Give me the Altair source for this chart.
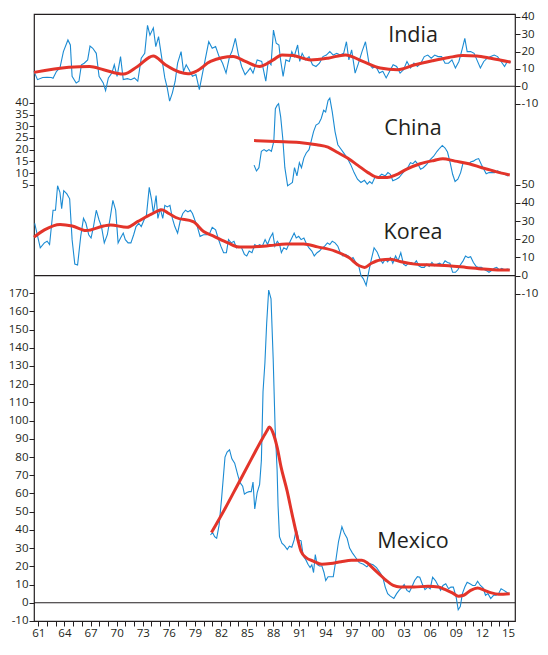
import altair as alt
import pandas as pd

# ---------------- data ----------------
india_year = [1960.50, 1960.90, 1961.5, 1962.0, 1962.49, 1962.69, 1963.09, 1963.48, 1963.88, 1964.40, 1964.68, 1964.88,
              1965.35, 1965.67, 1965.95, 1966.27, 1966.67, 1966.94, 1967.26, 1967.66, 1967.98, 1968.46, 1968.73, 1969.05,
              1969.45, 1969.73, 1970.05, 1970.45, 1970.76, 1971.24, 1971.64, 1972.04, 1972.43, 1972.83, 1973.23, 1973.55,
              1973.83, 1974.22, 1974.50, 1974.82, 1975.14, 1975.54, 1975.82, 1976.09, 1976.41, 1976.73, 1977.01, 1977.41,
              1977.69, 1978.00, 1978.32, 1978.72, 1979.12, 1979.51, 1979.99, 1980.59, 1980.99, 1981.38, 1981.78, 1982.18,
              1982.58, 1982.98, 1983.25, 1983.65, 1983.97, 1984.37, 1984.77, 1985.08, 1985.36, 1985.68, 1986.16, 1986.68,
              1987.15, 1987.43, 1987.75, 1988.03, 1988.35, 1988.66, 1988.82, 1989.14, 1989.46, 1989.86, 1990.14, 1990.41,
              1990.81, 1991.05, 1991.33, 1991.73, 1992.12, 1992.52, 1992.92, 1993.32, 1993.72, 1994.11, 1994.51, 1994.91,
              1995.31, 1995.71, 1996.10, 1996.42, 1996.70, 1997.02, 1997.42, 1997.81, 1998.21, 1998.61, 1999.01, 1999.41,
              1999.80, 2000.20, 2000.60, 2000.99, 2001.39, 2001.79, 2002.19, 2002.59, 2002.98, 2003.38, 2003.78, 2004.18,
              2004.58, 2004.97, 2005.37, 2005.77, 2006.17, 2006.57, 2006.96, 2007.36, 2007.76, 2008.16, 2008.55, 2008.95,
              2009.35, 2009.75, 2010.03, 2010.30, 2010.70, 2011.10, 2011.42, 2011.82, 2012.21, 2012.61, 2013.01, 2013.41,
              2013.80, 2014.20, 2014.60, 2014.92, 2015.32]
india_val = [8.6, 3.8, 5.0, 5.2, 5.0, 4.6, 8.6, 10.5, 20.0, 26.7, 23.8, 5.7,
             1.9, 2.9, 12.4, 13.3, 15.2, 23.2, 21.9, 19.0, 5.7, 1.9, -2.5, 4.8,
             7.6, 12.4, 5.7, 17.1, 3.8, 4.4, 3.8, 4.8, 2.9, 16.2, 19.0, 35.2,
             29.5, 33.7, 22.9, 28.6, 18.0, 4.8, -1.0, -8.6, -3.8, 2.9, 13.3, 20.0,
             8.6, 12.4, 9.5, 5.7, 6.7, -1.9, 10.5, 25.7, 21.9, 22.9, 17.1, 13.3,
             7.6, 17.1, 20.0, 27.6, 19.0, 11.4, 6.7, 8.6, 10.5, 7.6, 15.2, 14.3,
             2.9, 14.3, 12.4, 32.4, 24.8, 23.8, 16.2, 5.7, 15.2, 14.3, 20.0, 17.1,
             23.8, 14.3, 19.0, 15.2, 17.1, 12.4, 11.4, 13.3, 17.1, 18.0, 20.0, 18.0,
             19.0, 18.0, 19.0, 25.7, 15.2, 21.0, 7.6, 13.3, 20.0, 25.7, 13.3, 10.5,
             11.4, 7.6, 8.6, 4.8, 8.6, 12.4, 11.4, 7.6, 9.5, 14.3, 10.5, 13.3,
             11.4, 13.3, 17.1, 18.0, 16.2, 18.0, 17.1, 17.1, 13.3, 13.3, 15.2, 10.5,
             14.3, 21.9, 27.6, 20.0, 20.0, 19.0, 15.2, 10.5, 14.3, 16.2, 17.1, 18.0,
             17.1, 14.3, 11.4, 14.3, 13.9]
india_trend_year = [1960.5, 1964.5, 1966.9, 1968.5, 1970.8, 1972.4, 1974.2, 1975.6, 1977.2, 1978.2, 1979.2, 1980.8,
                    1983.4, 1984.8, 1986.4, 1988.0, 1989.0, 1990.3, 1992.3, 1994.3, 1996.3, 1998.3, 2000.3, 2002.3,
                    2004.3, 2006.3, 2008.2, 2009.8, 2011.4, 2013.0, 2015.3]
india_trend_val = [8.0, 10.9, 11.4, 9.5, 7.0, 11.4, 17.5, 12.4, 8.2, 7.2, 8.8, 14.3,
                   17.1, 14.3, 11.4, 15.2, 18.1, 17.7, 15.2, 16.2, 18.1, 14.3, 10.5, 9.5,
                   12.4, 14.7, 16.6, 17.7, 17.5, 16.2, 13.9]

china_year = [1985.80, 1986.08, 1986.36, 1986.64, 1986.95, 1987.23, 1987.51, 1987.79, 1988.07, 1988.25, 1988.45, 1988.62,
              1988.86, 1989.10, 1989.34, 1989.66, 1989.94, 1990.21, 1990.45, 1990.73, 1991.01, 1991.25, 1991.53, 1991.80,
              1992.12, 1992.36, 1992.64, 1992.92, 1993.24, 1993.52, 1993.80, 1994.03, 1994.31, 1994.51, 1994.79, 1995.11,
              1995.43, 1995.70, 1996.10, 1996.50, 1996.90, 1997.30, 1997.69, 1998.09, 1998.49, 1998.81, 1999.09, 1999.36,
              1999.68, 2000.08, 2000.48, 2000.88, 2001.19, 2001.47, 2001.75, 2002.15, 2002.47, 2002.78, 2003.10, 2003.46,
              2003.78, 2004.06, 2004.34, 2004.66, 2004.94, 2005.25, 2005.65, 2006.05, 2006.45, 2006.84, 2007.16, 2007.44,
              2007.76, 2008.04, 2008.35, 2008.63, 2008.91, 2009.23, 2009.55, 2009.83, 2010.10, 2010.42, 2010.74, 2011.02,
              2011.30, 2011.62, 2011.93, 2012.21, 2012.49, 2012.81, 2013.13, 2013.45, 2013.80, 2014.20, 2014.60, 2015.00]
china_val = [13.4, 10.9, 12.3, 19.3, 20.0, 19.3, 20.0, 19.3, 23.5, 37.5, 38.9, 39.6,
             34.0, 24.9, 12.3, 4.6, 5.3, 6.0, 12.3, 8.8, 14.4, 12.3, 16.5, 18.6,
             20.0, 23.5, 27.7, 30.5, 31.2, 33.3, 36.8, 36.1, 41.0, 42.0, 36.1, 27.7,
             22.1, 20.7, 18.6, 16.5, 13.7, 10.2, 7.4, 6.0, 6.9, 5.3, 6.4, 5.5,
             8.1, 8.3, 9.5, 8.8, 10.2, 9.5, 6.7, 7.4, 8.1, 9.5, 10.9, 12.3,
             14.4, 14.0, 15.1, 13.7, 11.6, 12.3, 13.7, 15.8, 17.2, 19.3, 20.7, 21.8,
             20.7, 19.0, 14.4, 9.5, 6.4, 7.4, 10.2, 14.4, 14.4, 13.7, 14.8, 15.1,
             15.8, 16.2, 13.7, 11.6, 9.7, 10.2, 10.2, 10.2, 10.9, 10.2, 9.5, 8.8]
china_trend_year = [1985.8, 1988.3, 1991.0, 1993.0, 1994.3, 1995.3, 1996.5, 1997.7, 1998.9, 2000.1, 2001.1, 2002.1,
                    2003.3, 2004.9, 2006.5, 2007.5, 2008.9, 2010.5, 2012.0, 2013.6, 2015.2]
china_trend_val = [23.9, 23.5, 23.1, 22.1, 21.1, 19.0, 16.5, 13.4, 10.2, 8.1, 8.1, 9.2,
                   11.6, 14.0, 15.4, 16.1, 15.1, 14.0, 12.3, 10.6, 9.2]

korea_year = [1960.58, 1961.22, 1961.69, 1962.01, 1962.29, 1962.69, 1962.97, 1963.21, 1963.48, 1963.68, 1963.92, 1964.28,
              1964.60, 1964.88, 1965.19, 1965.51, 1965.87, 1966.19, 1966.47, 1966.79, 1967.06, 1967.34, 1967.66, 1967.98,
              1968.26, 1968.58, 1968.93, 1969.25, 1969.57, 1969.89, 1970.17, 1970.45, 1970.76, 1971.00, 1971.32, 1971.64,
              1971.96, 1972.23, 1972.55, 1972.83, 1973.15, 1973.43, 1973.75, 1974.03, 1974.22, 1974.54, 1974.74, 1975.02,
              1975.30, 1975.54, 1975.82, 1976.13, 1976.41, 1976.69, 1977.01, 1977.33, 1977.61, 1977.92, 1978.20, 1978.48,
              1978.72, 1978.99, 1979.28, 1979.59, 1979.99, 1980.39, 1980.71, 1980.99, 1981.38, 1981.66, 1981.98, 1982.30,
              1982.62, 1982.86, 1983.17, 1983.49, 1983.77, 1984.05, 1984.37, 1984.69, 1984.96, 1985.24, 1985.56, 1985.88,
              1986.16, 1986.44, 1986.75, 1987.07, 1987.35, 1987.63, 1987.95, 1988.19, 1988.47, 1988.74, 1988.94, 1989.22,
              1989.54, 1989.86, 1990.14, 1990.41, 1990.65, 1990.93, 1991.21, 1991.53, 1991.85, 1992.12, 1992.44, 1992.72,
              1993.04, 1993.32, 1993.64, 1993.92, 1994.23, 1994.51, 1994.79, 1995.11, 1995.43, 1995.71, 1996.02, 1996.30,
              1996.62, 1996.90, 1997.18, 1997.50, 1997.81, 1998.09, 1998.37, 1998.69, 1999.01, 1999.29, 1999.60, 1999.96,
              2000.28, 2000.60, 2000.88, 2001.16, 2001.47, 2001.75, 2002.07, 2002.35, 2002.67, 2002.98, 2003.26, 2003.54,
              2003.86, 2004.18, 2004.46, 2004.74, 2005.05, 2005.37, 2005.65, 2005.93, 2006.25, 2006.57, 2006.84, 2007.12,
              2007.44, 2007.76, 2008.04, 2008.32, 2008.63, 2008.95, 2009.23, 2009.51, 2009.83, 2010.11, 2010.42, 2010.70,
              2011.02, 2011.34, 2011.62, 2011.94, 2012.21, 2012.53, 2012.81, 2013.09, 2013.41, 2013.69, 2014.00, 2014.28,
              2014.60, 2014.92, 2015.20]
korea_val = [28.8, 15.3, 18.0, 18.9, 17.1, 36.0, 36.0, 49.5, 45.9, 36.9, 46.8, 45.0,
             42.3, 19.8, 6.3, 5.8, 21.6, 31.5, 28.8, 22.5, 20.7, 27.0, 36.0, 30.6,
             27.0, 18.0, 22.5, 31.5, 41.4, 36.0, 18.0, 20.7, 23.4, 19.8, 18.0, 18.0,
             22.5, 27.0, 28.8, 27.0, 30.6, 33.3, 48.6, 41.4, 34.2, 44.1, 31.5, 36.9,
             31.5, 38.7, 37.8, 38.7, 31.5, 27.0, 23.4, 30.6, 34.2, 36.0, 35.1, 36.0,
             34.2, 30.6, 27.0, 21.6, 22.5, 22.5, 23.4, 26.6, 25.2, 20.7, 16.2, 12.6,
             12.6, 19.8, 18.0, 18.9, 15.3, 16.2, 15.3, 11.7, 10.8, 13.5, 12.6, 17.1,
             16.2, 17.1, 16.2, 19.8, 17.1, 20.7, 23.4, 16.2, 18.9, 17.1, 12.6, 15.3,
             14.4, 18.0, 20.7, 23.4, 20.7, 21.6, 19.8, 20.7, 17.1, 15.3, 13.5, 10.8,
             12.6, 13.5, 15.3, 16.2, 18.0, 17.1, 18.9, 18.0, 16.2, 12.6, 10.8, 11.7,
             10.8, 9.0, 9.9, 7.2, 5.8, 0.0, -1.8, -5.4, 2.7, 9.0, 15.3, 12.9,
             9.0, 6.8, 9.0, 7.6, 9.9, 6.8, 10.8, 8.1, 12.6, 6.3, 5.4, 6.8,
             7.2, 6.3, 8.1, 5.4, 4.5, 4.5, 6.3, 5.0, 7.2, 5.4, 6.3, 6.8,
             5.8, 8.1, 7.2, 6.8, 1.8, 1.8, 3.2, 5.8, 8.1, 10.8, 9.9, 10.4,
             7.2, 5.0, 4.5, 4.5, 3.6, 2.7, 1.8, 2.7, 4.0, 4.5, 3.1, 4.0,
             3.1, 3.6, 3.2]
korea_trend_year = [1960.5, 1961.7, 1963.5, 1964.9, 1966.5, 1968.5, 1969.3, 1971.2, 1972.4, 1974.0, 1975.2, 1976.0,
                    1976.8, 1978.8, 1980.0, 1981.2, 1982.8, 1984.0, 1985.2, 1987.6, 1989.5, 1991.5, 1993.1, 1995.1,
                    1996.7, 1997.9, 1998.5, 1999.3, 2000.3, 2001.5, 2002.7, 2004.3, 2006.3, 2008.2, 2010.2, 2012.2,
                    2013.8, 2015.2]
korea_trend_val = [21.2, 25.2, 28.2, 27.3, 24.8, 27.3, 27.9, 26.6, 29.7, 33.8, 36.3, 34.2,
                   32.0, 29.7, 24.3, 21.6, 18.0, 15.8, 15.8, 16.5, 17.4, 17.4, 15.8, 13.5,
                   9.9, 5.4, 4.5, 6.8, 8.6, 9.0, 7.6, 6.3, 5.8, 5.4, 4.5, 3.6,
                   3.1, 3.1]

mexico_year = [1980.79, 1981.03, 1981.27, 1981.50, 1981.78, 1982.06, 1982.46, 1982.70, 1982.98, 1983.25, 1983.57, 1983.97,
               1984.21, 1984.49, 1984.69, 1984.96, 1985.24, 1985.48, 1985.68, 1985.88, 1986.16, 1986.44, 1986.64, 1986.83,
               1987.05, 1987.25, 1987.48, 1987.75, 1988.00, 1988.22, 1988.45, 1988.56, 1988.72, 1989.00, 1989.30, 1989.62,
               1989.86, 1990.14, 1990.41, 1990.65, 1990.93, 1991.21, 1991.45, 1991.73, 1992.00, 1992.24, 1992.44, 1992.64,
               1992.84, 1993.04, 1993.32, 1993.60, 1993.84, 1994.04, 1994.31, 1994.63, 1994.91, 1995.19, 1995.51, 1995.90,
               1996.18, 1996.50, 1996.78, 1997.10, 1997.50, 1997.89, 1998.37, 1998.77, 1999.09, 1999.48, 1999.88, 2000.28,
               2000.60, 2000.88, 2001.16, 2001.47, 2001.87, 2002.19, 2002.47, 2002.75, 2003.06, 2003.38, 2003.66, 2003.94,
               2004.26, 2004.58, 2004.85, 2005.13, 2005.45, 2005.77, 2006.05, 2006.33, 2006.65, 2006.96, 2007.24, 2007.52,
               2007.84, 2008.16, 2008.43, 2008.71, 2009.03, 2009.27, 2009.51, 2009.75, 2010.03, 2010.30, 2010.62, 2010.94,
               2011.22, 2011.50, 2011.82, 2012.13, 2012.41, 2012.69, 2013.01, 2013.33, 2013.61, 2013.88, 2014.20, 2014.52,
               2014.80, 2015.08]
mexico_val = [37.2, 38.6, 36.3, 35.4, 42.6, 56.9, 80.0, 82.7, 84.0, 79.0, 76.6, 69.4,
              65.8, 64.0, 59.6, 60.5, 61.0, 61.0, 66.2, 51.5, 60.5, 65.0, 78.0, 115.8,
              131.9, 153.4, 171.6, 166.8, 133.7, 96.1, 72.9, 53.3, 36.3, 32.7, 31.3, 29.2,
              31.0, 30.5, 34.5, 40.4, 34.5, 34.0, 25.6, 23.8, 21.1, 19.3, 20.8, 16.6,
              26.5, 21.1, 20.2, 20.2, 16.6, 12.2, 14.3, 14.3, 14.3, 22.9, 33.6, 41.7,
              38.1, 35.4, 30.0, 27.4, 24.7, 22.0, 21.1, 19.7, 21.5, 20.8, 19.3, 16.6,
              14.0, 8.6, 5.0, 3.6, 2.3, 5.0, 6.8, 8.2, 10.0, 6.8, 5.9, 8.6,
              12.2, 14.3, 14.0, 10.4, 7.2, 8.6, 7.7, 14.0, 12.2, 9.5, 6.8, 9.5,
              10.4, 7.7, 8.6, 8.6, 3.2, -3.9, -2.1, 5.0, 8.6, 11.3, 10.4, 9.5,
              9.5, 11.8, 9.5, 8.2, 4.1, 5.0, 2.3, 4.1, 4.1, 4.7, 7.7, 6.8,
              5.9, 5.0]
mexico_trend_year = [1980.9, 1982.5, 1984.0, 1985.5, 1986.8, 1987.3, 1987.55, 1988.0, 1988.45, 1988.9, 1989.6, 1990.2,
                     1990.8, 1991.2, 1991.8, 1992.6, 1993.6, 1994.6, 1995.8, 1997.0, 1998.2, 1998.8, 1999.4, 2000.2,
                     2001.0, 2001.8, 2002.6, 2004.2, 2005.8, 2007.0, 2007.8, 2008.6, 2009.3, 2009.9, 2010.7, 2011.5,
                     2012.3, 2013.1, 2013.9, 2015.2]
mexico_trend_val = [38.5, 52.0, 65.5, 79.0, 90.5, 94.5, 96.5, 93.0, 85.4, 74.6, 61.4, 48.0,
                    35.4, 28.3, 24.7, 22.9, 21.1, 21.5, 22.5, 23.3, 23.3, 22.0, 19.3, 15.7,
                    12.2, 9.5, 8.6, 8.6, 9.1, 8.6, 7.2, 5.4, 3.6, 4.1, 6.8, 8.1,
                    6.8, 5.4, 4.7, 5.0]

x_tick_years = list(range(1961, 2016))
x_label_years = list(range(1961, 2016, 3))
x_label_text = ["61", "64", "67", "70", "73", "76", "79", "82", "85", "88",
                "91", "94", "97", "00", "03", "06", "09", "12", "15"]

india_ticks = [-10, 0, 10, 20, 30, 40]
china_ticks = [5, 10, 15, 20, 25, 30, 35, 40]
korea_ticks = [-10, 0, 10, 20, 30, 40, 50]
mexico_ticks = list(range(-10, 171, 10))

panel_names = ["India", "China", "Korea", "Mexico"]

# ---------------- styling ----------------
FONT = "Open Sans"
BLUE = "#1b8bd3"
RED = "#e3342a"
INK = "#231f20"
W, H = 481, 607

label_expr = " : ".join(
    f"datum.value == {y} ? '{t}'" for y, t in zip(x_label_years, x_label_text)
) + " : ''"

XSCALE = alt.Scale(domain=[1960.5, 2015.8], nice=False, zero=False)
X_AXIS = alt.Axis(values=x_tick_years, labelExpr=label_expr, title=None, grid=False,
                  domain=False, tickSize=5, labelPadding=1, labelOverlap=False,
                  labelFlush=False)


def xenc():
    return alt.X("year:Q", scale=XSCALE, axis=X_AXIS)


def yaxis(orient, ticks):
    return alt.Axis(orient=orient, values=ticks, title=None, grid=False, domain=False,
                    tickSize=5, labelPadding=1, labelOverlap=False, labelFlush=False,
                    labelExpr="toString(datum.value)")


def country(years, vals, tyears, tvals, domain, ticks, orient, zero_line):
    ysc = alt.Scale(domain=domain, nice=False, zero=False)
    raw = pd.DataFrame({"year": years, "v": vals})
    trend = pd.DataFrame({"year": tyears, "v": tvals})
    out = []
    if zero_line:
        out.append(
            alt.Chart(pd.DataFrame({"v": [0]})).mark_rule(color=INK, strokeWidth=1.2)
            .encode(y=alt.Y("v:Q", scale=ysc, axis=None))
        )
    out.append(
        alt.Chart(raw).mark_line(color=BLUE, strokeWidth=1.1)
        .encode(x=xenc(), y=alt.Y("v:Q", scale=ysc, axis=yaxis(orient, ticks)))
    )
    out.append(
        alt.Chart(trend).mark_line(color=RED, strokeWidth=3, interpolate="monotone")
        .encode(x=xenc(), y=alt.Y("v:Q", scale=ysc, axis=None))
    )
    return out


layers = []
layers += country(india_year, india_val, india_trend_year, india_trend_val,
                  [-308.7, 41.7], india_ticks, "right", True)
layers += country(china_year, china_val, china_trend_year, china_trend_val,
                  [-181.25, 77.92], china_ticks, "left", False)
layers += country(korea_year, korea_val, korea_trend_year, korea_trend_val,
                  [-190.3, 144.1], korea_ticks, "right", True)
layers += country(mexico_year, mexico_val, mexico_trend_year, mexico_trend_val,
                  [-10.02, 323.2], mexico_ticks, "left", True)

label_pos = [(379, 22.4), (379, 115.2), (379, 218.8), (379, 528)]
for n, (px, py) in zip(panel_names, label_pos):
    layers.append(
        alt.Chart(pd.DataFrame({"t": [n]})).mark_text(
            font=FONT, fontSize=21.5, color=INK, align="center", baseline="middle"
        ).encode(text="t:N", x=alt.value(px), y=alt.value(py))
    )

chart = (
    alt.layer(*layers)
    .resolve_scale(y="independent")
    .properties(width=W, height=H, autosize=alt.AutoSizeParams(type="none"),
                padding={"left": 26, "top": 6, "right": 25, "bottom": 17},
                background="white")
    .configure_view(stroke=INK, strokeWidth=1.2)
    .configure_axis(labelFont=FONT, labelFontSize=11.5, labelColor=INK, tickColor=INK,
                    labelBound=False)
)

chart.save("out.html", embed_options={"renderer": "svg", "actions": False})
